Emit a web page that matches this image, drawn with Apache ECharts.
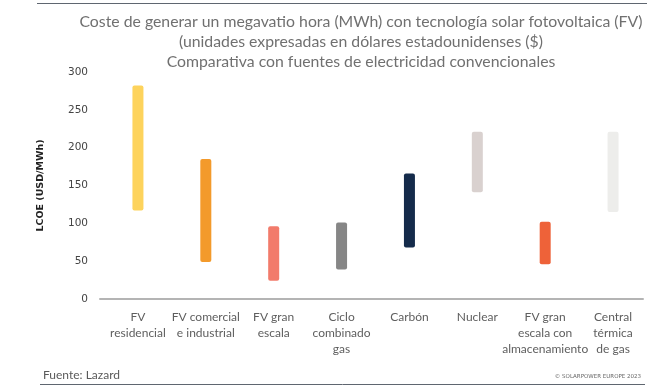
<!DOCTYPE html>
<html>
<head>
<meta charset="utf-8">
<script src="https://cdn.jsdelivr.net/npm/echarts@6/dist/echarts.min.js"></script>
<style>
html,body{margin:0;padding:0;background:#fff;}
#c{width:647px;height:391px;}
</style>
</head>
<body>
<div id="c"></div>
<script>
const categories = ["FV\nresidencial", "FV comercial\ne industrial", "FV gran\nescala", "Ciclo\ncombinado\ngas", "Carbón", "Nuclear", "FV gran\nescala con\nalmacenamiento", "Central\ntérmica\nde gas"];
const lowValues = [117, 49, 24, 39, 68, 141, 46, 115];
const highValues = [282, 185, 96, 101, 166, 221, 102, 221];
const barColors = ["#FDD35C", "#F39A2B", "#F27B6B", "#868686", "#152B4B", "#D9D1CF", "#EE6239", "#EDEDEB"];
const yTicks = [0, 50, 100, 150, 200, 250, 300];

const rangeData = highValues.map((h, i) => ({
  value: h - lowValues[i],
  itemStyle: { color: barColors[i] }
}));

const chart = echarts.init(document.getElementById('c'), null, { renderer: 'canvas' });
chart.setOption({
  animation: false,
  backgroundColor: '#ffffff',
  title: {
    text: 'Coste de generar un megavatio hora (MWh) con tecnología solar fotovoltaica (FV)\n(unidades expresadas en dólares estadounidenses ($)\nComparativa con fuentes de electricidad convencionales',
    left: 356,
    top: 7,
    textAlign: 'center',
    textStyle: { fontFamily: 'Lato', fontSize: 15.8, fontWeight: 'normal', color: '#707070', lineHeight: 20 }
  },
  grid: [
    { left: 104, right: 0, top: 72, bottom: 92 },
    { left: 100, right: 4, top: 72, bottom: 92 }
  ],
  xAxis: [
    {
      type: 'category',
      gridIndex: 0,
      data: categories,
      axisLine: { show: false },
      axisTick: { show: false },
      axisLabel: { interval: 0, margin: 10, fontFamily: 'Lato', fontSize: 12, color: '#5e5e5e', lineHeight: 16, align: 'center' }
    },
    {
      type: 'value',
      gridIndex: 1,
      min: 0, max: 1,
      axisLine: { show: true, lineStyle: { color: '#b4b4b4', width: 2 } },
      axisTick: { show: false },
      axisLabel: { show: false },
      splitLine: { show: false }
    }
  ],
  yAxis: [
    {
      type: 'value',
      gridIndex: 0,
      min: yTicks[0],
      max: yTicks[yTicks.length - 1],
      interval: 50,
      name: 'LCOE (USD/MWh)',
      nameLocation: 'middle',
      nameGap: 58,
      nameTextStyle: { fontFamily: 'DejaVu Sans', fontSize: 9.5, fontWeight: 'bold', color: '#222' },
      axisLine: { show: false },
      axisTick: { show: false },
      splitLine: { show: false },
      axisLabel: { margin: 16, fontFamily: 'DejaVu Sans', fontSize: 10.5, color: '#444' }
    },
    { type: 'value', gridIndex: 1, show: false, min: 0, max: 1 }
  ],
  series: [
    {
      type: 'bar',
      stack: 'r',
      barWidth: 11,
      data: lowValues,
      itemStyle: { color: 'transparent' },
      silent: true
    },
    {
      type: 'bar',
      stack: 'r',
      barWidth: 11,
      data: rangeData,
      itemStyle: { borderRadius: 2 }
    }
  ],
  graphic: [
    { type: 'line', shape: { x1: 37, y1: 3.5, x2: 647, y2: 3.5 }, style: { stroke: '#5f6670', lineWidth: 1 } },
    { type: 'line', shape: { x1: 40, y1: 384.5, x2: 645, y2: 384.5 }, style: { stroke: '#5f6670', lineWidth: 1 } },
    { type: 'text', left: 43, top: 369, style: { text: 'Fuente: Lazard', fontFamily: 'Lato', fontSize: 12, fill: '#5a5a5a' } },
    { type: 'text', right: 6, top: 374, style: { text: '© SOLARPOWER EUROPE 2023', fontFamily: 'DejaVu Sans', fontSize: 5.5, fill: '#666' } }
  ]
});
</script>
</body>
</html>
